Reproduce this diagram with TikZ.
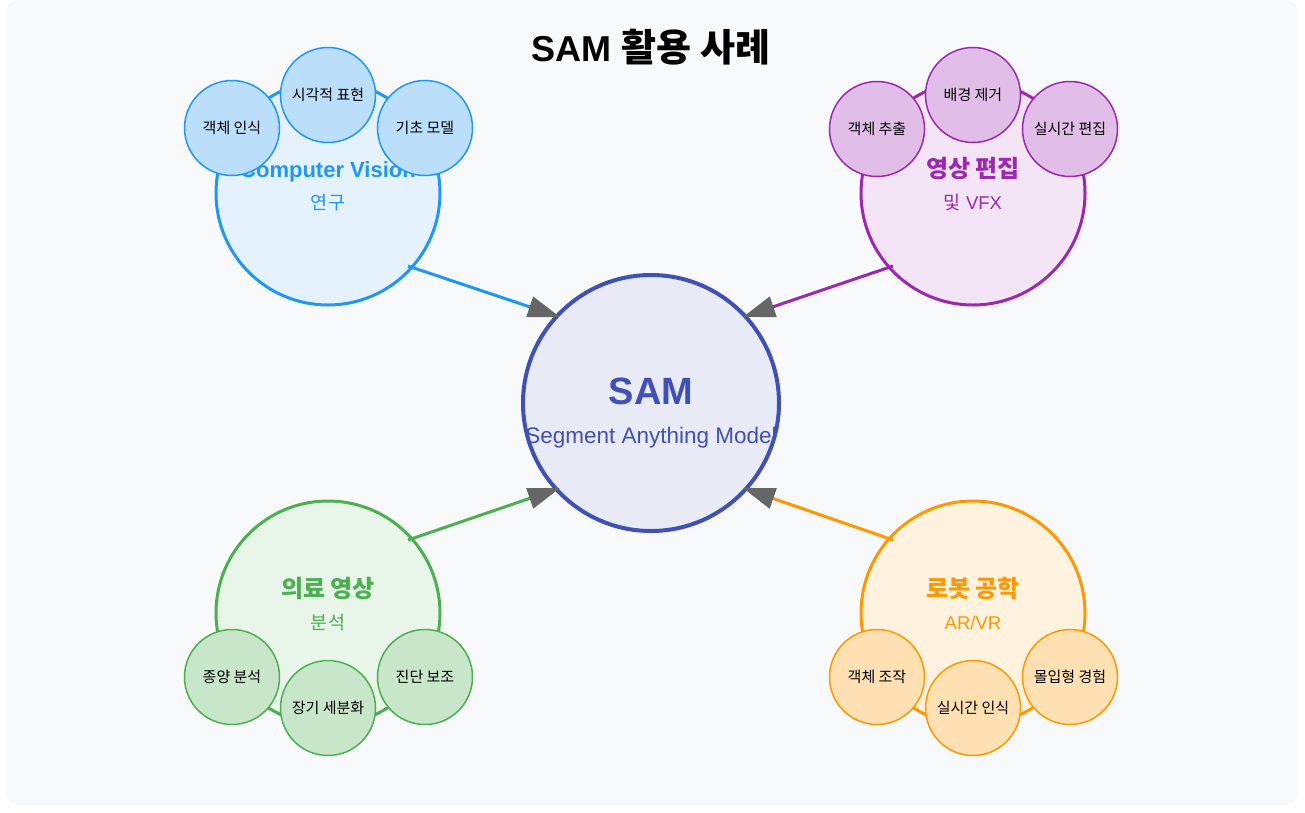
\documentclass[tikz,border=0pt]{standalone}
\usepackage{fontspec}
\setmainfont{Liberation Sans}
\newfontfamily\kr{Noto Sans CJK KR}
\usetikzlibrary{arrows.meta}
\definecolor{bgc}{HTML}{F8F9FA}
\definecolor{arrowgray}{HTML}{666666}
\definecolor{cvS}{HTML}{2196F3}\definecolor{cvF}{HTML}{E3F2FD}\definecolor{cvB}{HTML}{BBDEFB}
\definecolor{vdS}{HTML}{9C27B0}\definecolor{vdF}{HTML}{F3E5F5}\definecolor{vdB}{HTML}{E1BEE7}
\definecolor{mdS}{HTML}{4CAF50}\definecolor{mdF}{HTML}{E8F5E9}\definecolor{mdB}{HTML}{C8E6C9}
\definecolor{rbS}{HTML}{FF9800}\definecolor{rbF}{HTML}{FFF3E0}\definecolor{rbB}{HTML}{FFE0B2}
\definecolor{smS}{HTML}{3F51B5}\definecolor{smF}{HTML}{E8EAF6}
\newcommand{\krt}{\fontsize{24}{28}\selectfont\kr}
\tikzset{
  bigc/.style={circle, line width=3pt, minimum size=224pt, inner sep=0pt},
  smallc/.style={circle, line width=1.5pt, minimum size=95pt, inner sep=0pt,
    text height=11pt, text depth=0pt, font=\fontsize{15}{17}\selectfont\kr, text=black},
  ttl/.style={anchor=base, inner sep=0pt, font=\fontsize{22}{26}\selectfont\bfseries},
  subt/.style={anchor=base, inner sep=0pt, font=\fontsize{18.5}{20}\selectfont},
  conn/.style={line width=3pt, -{Triangle[length=32pt,width=21pt,color=arrowgray]}}
}
\begin{document}
\begin{tikzpicture}[x=1pt,y=-1pt]
\useasboundingbox (0,0) rectangle (1305,812);
\fill[white] (0,0) rectangle (1305,812);
\fill[bgc, rounded corners=12pt] (6,0) rectangle (1298,805);

\node[font=\fontsize{36}{40}\selectfont\bfseries, anchor=base, inner sep=0pt] (title) at (651,61) {SAM {\fontsize{38}{42}\selectfont\kr 활용 사례}};

% Computer Vision
\node[bigc, draw=cvS, fill=cvF] (cv) at (328,193) {};
\node[ttl, text=cvS] (cvt) at (328,177) {Computer Vision};
\node[subt, text=cvS] (cvs) at (328,209) {\kr 연구};
\node[smallc, draw=cvS, fill=cvB] (cv1) at (232,128) {객체 인식};
\node[smallc, draw=cvS, fill=cvB] (cv2) at (328,95) {시각적 표현};
\node[smallc, draw=cvS, fill=cvB] (cv3) at (425,128) {기초 모델};

% Video
\node[bigc, draw=vdS, fill=vdF] (vd) at (973,193) {};
\node[ttl, text=vdS] (vdt) at (973,177) {\krt 영상 편집};
\node[subt, text=vdS] (vds) at (973,209) {{\kr 및} VFX};
\node[smallc, draw=vdS, fill=vdB] (vd1) at (877,129) {객체 추출};
\node[smallc, draw=vdS, fill=vdB] (vd2) at (973,95) {배경 제거};
\node[smallc, draw=vdS, fill=vdB] (vd3) at (1070,129) {실시간 편집};

% Medical
\node[bigc, draw=mdS, fill=mdF] (md) at (328,613) {};
\node[ttl, text=mdS] (mdt) at (328,597) {\krt 의료 영상};
\node[subt, text=mdS] (mds) at (328,629) {\kr 분석};
\node[smallc, draw=mdS, fill=mdB] (md1) at (232,677) {종양 분석};
\node[smallc, draw=mdS, fill=mdB] (md2) at (328,708) {장기 세분화};
\node[smallc, draw=mdS, fill=mdB] (md3) at (425,677) {진단 보조};

% Robot
\node[bigc, draw=rbS, fill=rbF] (rb) at (973,613) {};
\node[ttl, text=rbS] (rbt) at (973,597) {\krt 로봇 공학};
\node[subt, text=rbS] (rbs) at (973,629) {AR/VR};
\node[smallc, draw=rbS, fill=rbB] (rb1) at (877,677) {객체 조작};
\node[smallc, draw=rbS, fill=rbB] (rb2) at (973,708) {실시간 인식};
\node[smallc, draw=rbS, fill=rbB] (rb3) at (1070,677) {몰입형 경험};

% Center
\node[circle, line width=4pt, minimum size=256pt, inner sep=0pt, draw=smS, fill=smF] (sam) at (651,403) {};
\node[anchor=base, inner sep=0pt, text=smS, font=\fontsize{38}{42}\selectfont\bfseries] (samt) at (651,404) {SAM};
\node[anchor=base, inner sep=0pt, text=smS, font=\fontsize{22.5}{26}\selectfont] (sams) at (651,443) {Segment Anything Model};

% connectors
\coordinate (cvA) at (408,266);
\coordinate (vdA) at (893,266);
\coordinate (mdA) at (408,540);
\coordinate (rbA) at (893,540);
\coordinate (tipNW) at (560,317);
\coordinate (tipNE) at (743,317);
\coordinate (tipSW) at (560,488);
\coordinate (tipSE) at (743,488);
\draw[conn, draw=cvS] (cvA) -- (tipNW);
\draw[conn, draw=vdS] (vdA) -- (tipNE);
\draw[conn, draw=mdS] (mdA) -- (tipSW);
\draw[conn, draw=rbS] (rbA) -- (tipSE);
\end{tikzpicture}
\end{document}
